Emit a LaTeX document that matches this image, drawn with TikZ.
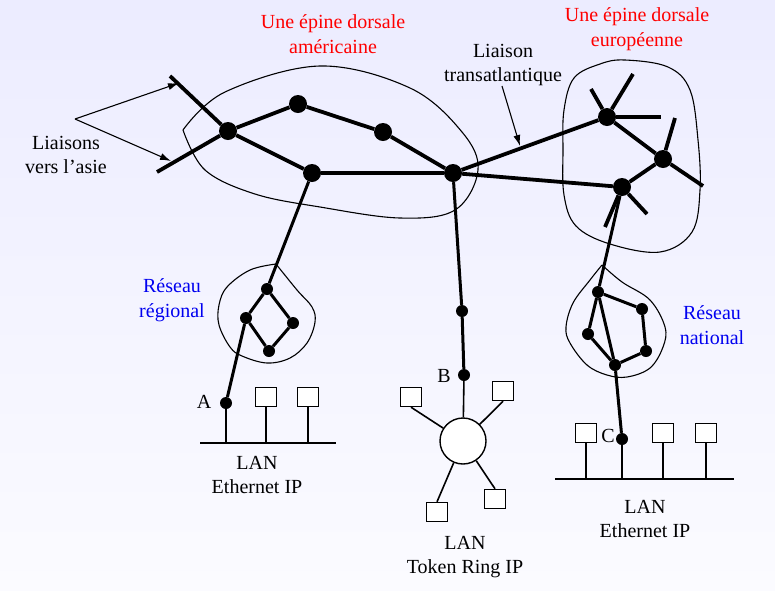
\documentclass[tikz,border=0pt]{standalone}
\usepackage{fontspec}
\setmainfont{Liberation Serif}
\usetikzlibrary{arrows.meta}
\definecolor{bgtop}{RGB}{236,236,255}
\definecolor{bgbot}{RGB}{251,251,255}
\definecolor{spinered}{RGB}{255,0,0}
\definecolor{netblue}{RGB}{0,0,240}
\tikzset{
    router/.style={circle,fill=black,inner sep=0pt,minimum size=18pt},
    hop/.style={circle,fill=black,inner sep=0pt,minimum size=12pt},
    trunk/.style={line width=3.8pt},
    link/.style={line width=3pt},
    wire/.style={line width=1.6pt},
    blob/.style={line width=1.1pt},
    pointer/.style={line width=1.1pt,-{Latex[length=11pt,width=7pt]}},
    host/.style={draw,line width=1.4pt,fill=white,minimum width=21pt,minimum height=19pt,inner sep=0pt},
    ring/.style={draw,circle,line width=1.4pt,fill=white,minimum size=46pt,inner sep=0pt},
    caption/.style={align=center,inner sep=0pt,font=\fontsize{20}{24.5}\selectfont}
}

\begin{document}
\begin{tikzpicture}[x=1pt,y=-1pt]
    \shade[top color=bgtop,bottom color=bgbot] (0,0) rectangle (775,590);
    \useasboundingbox (0,0) rectangle (775,590);

    % outlines of the networks
    \draw[blob] plot[smooth,tension=0.6] coordinates {(183,130) (225,92) (320,66) (410,88) (462,132) (478,170) (455,210) (400,218) (320,207) (255,194) (205,170) (183,130)};
    \draw[blob] plot[smooth cycle,tension=0.6] coordinates {(564,110) (574,78) (600,64) (625,60) (668,67) (690,90) (698,140) (700,190) (692,232) (660,252) (610,244) (576,226) (564,195) (563,150)};
    \draw[blob] plot[smooth,tension=0.6] coordinates {(276,264) (297,290) (312,307) (315,322) (307,343) (290,358) (267,363) (242,356) (230,347) (219,325) (219,305) (227,287) (250,270) (276,264)};
    \draw[blob] plot[smooth,tension=0.6] coordinates {(602,265) (622,282) (650,300) (665,327) (663,347) (650,368) (627,377) (607,375) (587,365) (570,343) (566,327) (573,303) (590,280) (602,265)};

    % american backbone
    \node[router] (us1) at (228,131) {};
    \node[router] (us2) at (298,104) {};
    \node[router] (us3) at (383,132) {};
    \node[router] (us4) at (312,173) {};
    \node[router] (us5) at (453,173) {};
    \foreach \a/\b in {us1/us2,us2/us3,us3/us5,us1/us4,us4/us5}
        \draw[trunk] (\a) -- (\b);

    % links towards asia
    \coordinate (asia1) at (170,76);
    \coordinate (asia2) at (157,172);
    \draw[trunk] (asia1) -- (us1);
    \draw[trunk] (asia2) -- (us1);
    \coordinate (asiafrom) at (75,119);
    \coordinate (asiatip1) at (179,83);
    \coordinate (asiatip2) at (171,161);
    \draw[pointer] (asiafrom) -- (asiatip1);
    \draw[pointer] (asiafrom) -- (asiatip2);

    % european backbone
    \node[router] (eu1) at (607,117) {};
    \node[router] (eu2) at (663,159) {};
    \node[router] (eu3) at (622,187) {};
    \draw[trunk] (us5) -- (eu1);
    \draw[trunk] (us5) -- (eu3);
    \draw[trunk] (eu1) -- (eu2);
    \draw[trunk] (eu2) -- (eu3);
    \foreach \n/\x/\y in {eu1/591/89,eu1/633/74,eu1/661/117,eu2/675/118,eu2/703/186,eu3/647/214,eu3/605/227}
        \draw[trunk] (\n) -- (\x,\y);
    \coordinate (atlfrom) at (502,86);
    \coordinate (atltip) at (520,146);
    \draw[pointer] (atlfrom) -- (atltip);

    % regional network
    \node[hop] (reg1) at (267,289) {};
    \node[hop] (reg2) at (246,318) {};
    \node[hop] (reg3) at (293,323) {};
    \node[hop] (reg4) at (269,351) {};
    \foreach \a/\b in {reg1/reg2,reg1/reg3,reg3/reg4,reg4/reg2}
        \draw[link] (\a) -- (\b);
    \draw[link] (us4) -- (reg1);

    % national network
    \node[hop] (nat1) at (598,292) {};
    \node[hop] (nat2) at (642,309) {};
    \node[hop] (nat3) at (588,334) {};
    \node[hop] (nat4) at (646,351) {};
    \node[hop] (nat5) at (615,365) {};
    \foreach \a/\b in {nat1/nat2,nat2/nat4,nat4/nat5,nat5/nat3,nat3/nat1,nat1/nat5}
        \draw[link] (\a) -- (\b);
    \draw[link] (eu3) -- (nat1);

    % LAN A
    \node[hop] (A) at (226,403) {};
    \draw[link] (reg2) -- (A);
    \node[host] (hostA1) at (266,397) {};
    \node[host] (hostA2) at (308,397) {};
    \coordinate (busAw) at (200,443);
    \coordinate (busAe) at (336,443);
    \draw[wire] (busAw) -- (busAe);
    \foreach \n in {A,hostA1,hostA2}
        \draw[wire] (\n) -- (\n |- busAw);

    % token ring B
    \node[hop] (mid) at (462,311) {};
    \node[hop] (B) at (464,375) {};
    \draw[link] (us5) -- (mid);
    \draw[link] (mid) -- (B);
    \node[ring] (tring) at (463,441) {};
    \draw[wire] (B) -- (tring);
    \node[host] (ring1) at (411,397) {};
    \node[host] (ring2) at (503,391) {};
    \node[host] (ring3) at (495,499) {};
    \node[host] (ring4) at (437,512) {};
    \draw[wire] (ring1.south) -- (tring);
    \draw[wire] (ring2.south) -- (tring);
    \draw[wire] (ring3.north) -- (tring);
    \draw[wire] (ring4.north) -- (tring);

    % LAN C
    \node[hop] (C) at (622,439) {};
    \draw[link] (nat5) -- (C);
    \node[host] (hostC1) at (586,433) {};
    \node[host] (hostC2) at (663,433) {};
    \node[host] (hostC3) at (706,433) {};
    \coordinate (busCw) at (555,479);
    \coordinate (busCe) at (734,479);
    \draw[wire] (busCw) -- (busCe);
    \foreach \n in {C,hostC1,hostC2,hostC3}
        \draw[wire] (\n) -- (\n |- busCw);

    % texts
    \node[caption,text=spinered] (usname) at (333,34) {Une épine dorsale\\américaine};
    \node[caption,text=spinered] (euname) at (637,29) {Une épine dorsale\\européenne};
    \node[caption] (atlname) at (503,65) {Liaison\\transatlantique};
    \node[caption] (asianame) at (66,155) {Liaisons\\vers l’asie};
    \node[caption,text=netblue] (regname) at (172,300) {Réseau\\régional};
    \node[caption,text=netblue] (natname) at (712,325) {Réseau\\national};
    \node[caption] (lanA) at (257,475) {LAN\\Ethernet IP};
    \node[caption] (lanB) at (465,557) {LAN\\Token Ring IP};
    \node[caption] (lanC) at (645,519) {LAN\\Ethernet IP};
    \node[caption] (labA) at (204,402) {A};
    \node[caption] (labB) at (444,376) {B};
    \node[caption] (labC) at (608,436) {C};
\end{tikzpicture}
\end{document}
